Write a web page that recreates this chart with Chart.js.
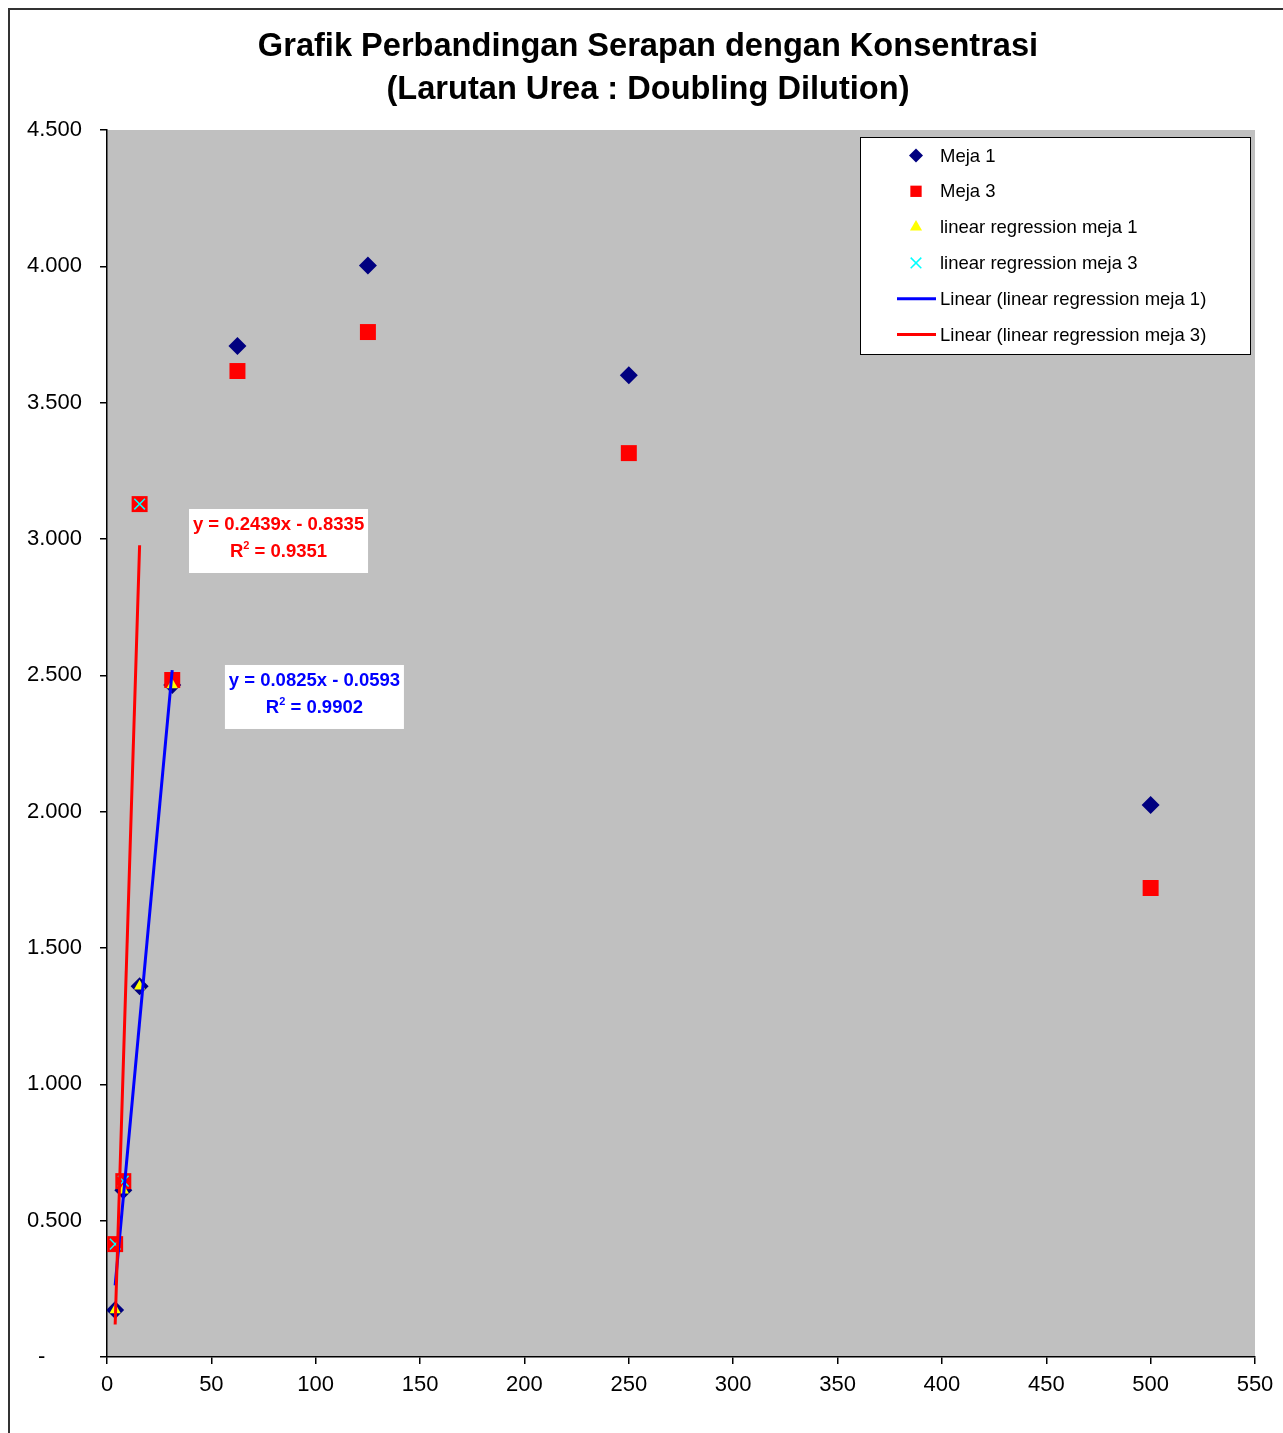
<!DOCTYPE html>
<html>
<head>
<meta charset="utf-8">
<script src="https://cdn.jsdelivr.net/npm/chart.js@4.4.1/dist/chart.umd.min.js"></script>
<style>
  html, body { margin: 0; padding: 0; background: #fff; }
  #wrap { position: relative; width: 1283px; height: 1433px; }
</style>
</head>
<body>
<div id="wrap"><canvas id="chart" width="1283" height="1433"></canvas></div>
<script>
// konsentrasi (doubling dilution)
const konsentrasi = [3.90625, 7.8125, 15.625, 31.25, 62.5, 125, 250, 500];
const meja1 = [0.172, 0.612, 1.360, 2.465, 3.708, 4.003, 3.601, 2.024];
const meja3 = [0.414, 0.645, 3.128, 2.483, 3.616, 3.759, 3.315, 1.720];

// points used for the regressions
const regMeja1X = [3.90625, 7.8125, 15.625, 31.25];
const regMeja1 = [0.172, 0.612, 1.360, 2.465];
const regMeja3X = [3.90625, 7.8125, 15.625];
const regMeja3 = [0.414, 0.645, 3.128];

// trendline ends
const trend1X = [3.90625, 31.25];
const trend1Y = [0.263, 2.519];
const trend3X = [3.90625, 15.625];
const trend3Y = [0.119, 2.977];

const xTicks = [0, 50, 100, 150, 200, 250, 300, 350, 400, 450, 500, 550];
const yTicks = [0, 0.5, 1, 1.5, 2, 2.5, 3, 3.5, 4, 4.5];

const titleLines = ["Grafik Perbandingan Serapan dengan Konsentrasi", "(Larutan Urea : Doubling Dilution)"];
const eq1 = ["y = 0.0825x - 0.0593", "0.9902"];
const eq3 = ["y = 0.2439x - 0.8335", "0.9351"];

const FONT = "'Liberation Sans', Arial, sans-serif";

const toPoints = (xs, ys) => ys.map((y, i) => ({ x: xs[i], y: y }));

const datasets = [
  {
    label: "Meja 1",
    data: toPoints(konsentrasi, meja1),
    pointStyle: "rectRot",
    pointRadius: 9,
    backgroundColor: "#000080",
    borderColor: "#000080",
    borderWidth: 0,
    order: 6,
    legendRadius: 7,
  },
  {
    label: "Meja 3",
    data: toPoints(konsentrasi, meja3),
    pointStyle: "rect",
    pointRadius: 11.3,
    backgroundColor: "#FF0000",
    borderColor: "#FF0000",
    borderWidth: 0,
    order: 5,
    legendRadius: 8,
  },
  {
    label: "linear regression meja 1",
    data: toPoints(regMeja1X, regMeja1),
    pointStyle: "triangle",
    pointRadius: 6.5,
    backgroundColor: "#FFFF00",
    borderColor: "#FFFF00",
    borderWidth: 0,
    order: 4,
    legendRadius: 7,
  },
  {
    label: "linear regression meja 3",
    data: toPoints(regMeja3X, regMeja3),
    pointStyle: "crossRot",
    pointRadius: 7.5,
    backgroundColor: "#00FFFF",
    borderColor: "#00FFFF",
    borderWidth: 1.5,
    order: 3,
    legendRadius: 7.5,
  },
  {
    label: "Linear (linear regression meja 1)",
    data: toPoints(trend1X, trend1Y),
    showLine: true,
    pointRadius: 0,
    borderColor: "#0000FF",
    backgroundColor: "#0000FF",
    borderWidth: 3,
    order: 2,
    isLine: true,
  },
  {
    label: "Linear (linear regression meja 3)",
    data: toPoints(trend3X, trend3Y),
    showLine: true,
    pointRadius: 0,
    borderColor: "#FF0000",
    backgroundColor: "#FF0000",
    borderWidth: 3,
    order: 1,
    isLine: true,
  },
];

// grey plot area, outer frame and the two-line title
const frame = {
  id: "frame",
  beforeDraw(chart) {
    const { ctx, chartArea: a } = chart;
    ctx.save();
    ctx.fillStyle = "#C0C0C0";
    ctx.fillRect(a.left, a.top, a.right - a.left, a.bottom - a.top);
    ctx.restore();
  },
  afterDraw(chart) {
    const ctx = chart.ctx;
    ctx.save();
    ctx.strokeStyle = "#333";
    ctx.lineWidth = 2;
    ctx.beginPath();
    ctx.moveTo(9, chart.height);
    ctx.lineTo(9, 9);
    ctx.lineTo(chart.width, 9);
    ctx.stroke();

    ctx.fillStyle = "#000";
    ctx.font = "bold 32.6px " + FONT;
    ctx.textAlign = "center";
    ctx.textBaseline = "middle";
    titleLines.forEach((t, i) => ctx.fillText(t, 648, 47 + i * 43));
    ctx.restore();
  },
};

// legend box inside the plot, top right
const boxLegend = {
  id: "boxLegend",
  afterDraw(chart) {
    const { ctx, chartArea: a } = chart;
    const w = 390, h = 217;
    const left = a.right - 5 - w, top = a.top + 7;
    ctx.save();
    ctx.fillStyle = "#fff";
    ctx.fillRect(left, top, w, h);
    ctx.strokeStyle = "#000";
    ctx.lineWidth = 1;
    ctx.strokeRect(left + 0.5, top + 0.5, w, h);
    ctx.font = "18.5px " + FONT;
    ctx.textBaseline = "middle";
    chart.data.datasets.forEach((ds, i) => {
      const y = top + 18.5 + i * 35.8;
      const mx = left + 56;
      if (ds.isLine) {
        ctx.strokeStyle = ds.borderColor;
        ctx.lineWidth = 3;
        ctx.beginPath();
        ctx.moveTo(left + 37, y);
        ctx.lineTo(left + 76, y);
        ctx.stroke();
      } else {
        ctx.fillStyle = ds.backgroundColor;
        ctx.strokeStyle = ds.borderColor;
        ctx.lineWidth = ds.borderWidth || 0.01;
        Chart.helpers.drawPoint(ctx, {
          pointStyle: ds.pointStyle,
          radius: ds.legendRadius,
          rotation: 0,
          borderWidth: ds.borderWidth,
        }, mx, y);
      }
      ctx.fillStyle = "#000";
      ctx.fillText(ds.label, left + 80, y + 1);
    });
    ctx.restore();
  },
};

// trendline equation boxes, anchored in data units
const eqBoxes = {
  id: "eqBoxes",
  afterDraw(chart) {
    const { ctx, scales } = chart;
    const boxes = [
      { text: eq3, color: "#FF0000", x: 39.3, y: 3.11 },
      { text: eq1, color: "#0000FF", x: 56.5, y: 2.538 },
    ];
    ctx.save();
    boxes.forEach((b) => {
      const left = scales.x.getPixelForValue(b.x);
      const top = scales.y.getPixelForValue(b.y);
      const w = 179, h = 64;
      const cx = left + w / 2;
      const big = "bold 18.5px " + FONT, small = "bold 11px " + FONT;
      ctx.fillStyle = "#fff";
      ctx.fillRect(left, top, w, h);
      ctx.fillStyle = b.color;
      ctx.textBaseline = "middle";
      ctx.font = big;
      ctx.textAlign = "center";
      ctx.fillText(b.text[0], cx, top + 16);
      // R² line
      const rest = " = " + b.text[1];
      const wR = ctx.measureText("R").width;
      const wRest = ctx.measureText(rest).width;
      ctx.font = small;
      const w2 = ctx.measureText("2").width;
      let x = cx - (wR + w2 + wRest) / 2;
      ctx.textAlign = "left";
      ctx.font = big;
      ctx.fillText("R", x, top + 43);
      x += wR;
      ctx.font = small;
      ctx.fillText("2", x, top + 37);
      x += w2;
      ctx.font = big;
      ctx.fillText(rest, x, top + 43);
    });
    ctx.restore();
  },
};

new Chart(document.getElementById("chart"), {
  type: "scatter",
  data: { datasets },
  options: {
    responsive: false,
    animation: false,
    layout: { padding: { top: 130, left: 0, right: 28, bottom: 0 } },
    plugins: {
      legend: { display: false },
      tooltip: { enabled: false },
      title: { display: false },
    },
    scales: {
      x: {
        type: "linear",
        min: 0,
        max: 550,
        afterFit: (s) => { s.height = 76; },
        afterBuildTicks: (s) => { s.ticks = xTicks.map((v) => ({ value: v })); },
        grid: { drawOnChartArea: false, drawTicks: true, tickLength: 7, tickColor: "#000", lineWidth: 1.5 },
        border: { display: true, color: "#000", width: 1.5 },
        ticks: { color: "#000", font: { family: FONT, size: 22 }, padding: 8, maxRotation: 0 },
      },
      y: {
        type: "linear",
        min: 0,
        max: 4.5,
        afterFit: (s) => { s.width = 107; },
        afterBuildTicks: (s) => { s.ticks = yTicks.map((v) => ({ value: v })); },
        grid: { drawOnChartArea: false, drawTicks: true, tickLength: 7, tickColor: "#000", lineWidth: 1.5 },
        border: { display: true, color: "#000", width: 1.5 },
        ticks: {
          color: "#000",
          font: { family: FONT, size: 22 },
          padding: 18,
          callback: (v) => (v === 0 ? "-\u2007\u2007\u2007" : v.toFixed(3)),
        },
      },
    },
  },
  plugins: [frame, boxLegend, eqBoxes],
});
</script>
</body>
</html>
